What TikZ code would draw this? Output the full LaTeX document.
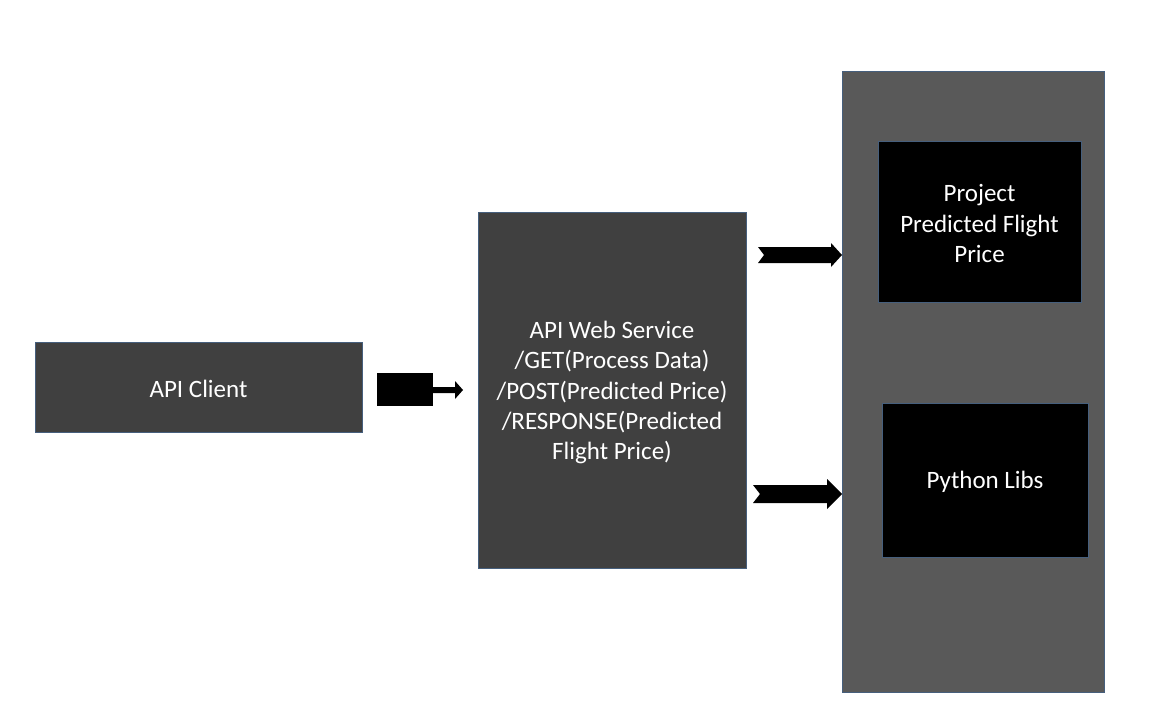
\documentclass[tikz,border=0pt]{standalone}
\usepackage{fontspec}
\setmainfont{Carlito}
\begin{document}
\begin{tikzpicture}[x=1pt,y=-1pt,
  box/.style={draw=bordercol, line width=0.8pt, inner sep=0pt},
  lbl/.style={text=white, align=center, inner sep=0pt, font=\fontsize{25}{30.2}\selectfont},
  blk/.style={fill=black, draw=none}]
\definecolor{bordercol}{RGB}{70,95,125}
\definecolor{dark}{RGB}{64,64,64}
\definecolor{mid}{RGB}{89,89,89}
\useasboundingbox[fill=white] (0,0) rectangle (1158,726);
\node[box, fill=dark, minimum width=327pt, minimum height=90pt] (client) at (198.5,387) {};
\node[box, fill=dark, minimum width=268pt, minimum height=356pt] (ws) at (612,390) {};
\node[box, fill=mid, minimum width=262pt, minimum height=621pt] (right) at (973,381.5) {};
\node[box, fill=black, minimum width=203pt, minimum height=161pt] (proj) at (979.5,221.5) {};
\node[box, fill=black, minimum width=206pt, minimum height=154pt] (libs) at (985,480) {};
\node[lbl] (clientt) at ([yshift=-1.5pt]client.center) {API Client};
\node[lbl] (wst) at ([yshift=-2.5pt]ws.center)
  {API Web Service\\/GET(Process Data)\\/POST(Predicted Price)\\/RESPONSE(Predicted\\Flight Price)};
\node[lbl] (projt) at ([yshift=-2pt]proj.center) {Project\\Predicted Flight\\Price};
\node[lbl] (libst) at ([yshift=-2pt]libs.center) {Python Libs};
% arrow client -> ws
\fill[blk] (377,373) rectangle (433,406);
\fill[blk] (433,387) -- (455,387) -- (455,381) -- (463,390) -- (455,399) -- (455,393) -- (433,393) -- cycle;
% notched arrow ws -> proj
\fill[blk] (758,247) -- (831,247) -- (831,243) -- (842,255) -- (831,267) -- (831,263) -- (758,263) -- (764,255) -- cycle;
% notched arrow ws -> libs
\fill[blk] (753,485) -- (827,485) -- (827,479) -- (842,494) -- (827,509) -- (827,503) -- (753,503) -- (760,494) -- cycle;
\end{tikzpicture}
\end{document}
